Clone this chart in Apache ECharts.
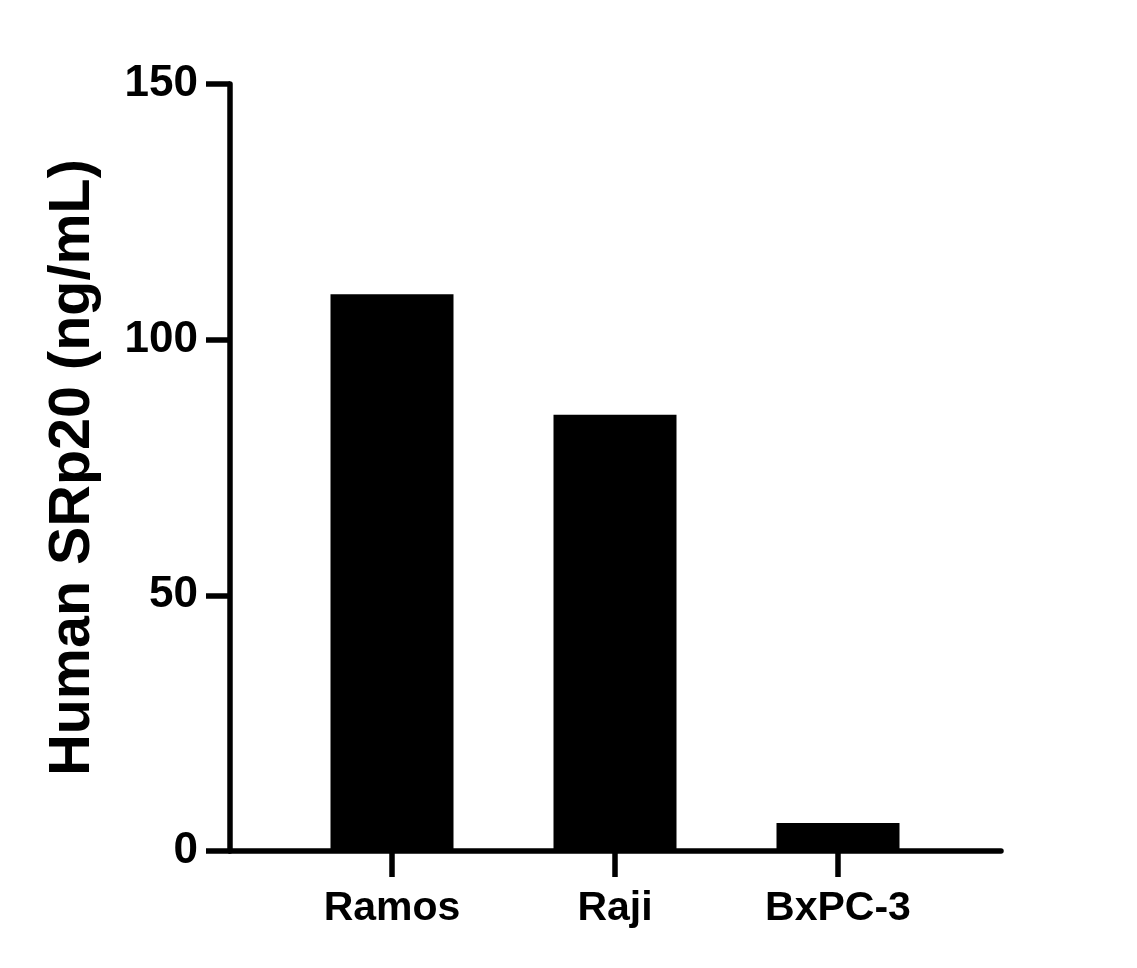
<!DOCTYPE html>
<html lang="en">
<head>
    <meta charset="UTF-8">
    <title>Human SRp20</title>
    <script src="https://cdn.jsdelivr.net/npm/echarts@6.0.0/dist/echarts.min.js"></script>
    <style>
        html, body { margin: 0; padding: 0; background: #fff; }
        #main { width: 1137px; height: 968px; }
    </style>
</head>
<body>
    <div id="main"></div>
    <script type="text/javascript">
        // data
        var categories = ['Ramos', 'Raji', 'BxPC-3'];
        var values = [108.9, 85.3, 5.5];
        var yTicks = { min: 0, max: 150, interval: 50 };
        var yTitle = 'Human SRp20 (ng/mL)';

        var font = 'Liberation Sans, Arial, sans-serif';
        var lw = 5.5;

        var chart = echarts.init(document.getElementById('main'));

        var option = {
            animation: false,
            backgroundColor: '#fff',
            grid: [
                // frame grid: full axes lines + y ticks/labels
                { left: 230, right: 136, top: 84, bottom: 117 },
                // bar grid: narrower so categories sit inside the frame
                { left: 280.5, right: 187.5, top: 84, bottom: 117 }
            ],
            xAxis: [
                {
                    gridIndex: 0, type: 'value', min: 0, max: 1,
                    axisLine: { show: true, lineStyle: { color: '#000', width: lw } },
                    axisTick: { show: false }, axisLabel: { show: false },
                    splitLine: { show: false }
                },
                {
                    gridIndex: 1, type: 'category', data: categories,
                    axisLine: { show: false },
                    axisTick: { show: true, alignWithLabel: true, length: 26,
                        lineStyle: { color: '#000', width: lw } },
                    axisLabel: { color: '#000', fontFamily: font, fontWeight: 'bold',
                        fontSize: 41, margin: 37 }
                }
            ],
            yAxis: [
                {
                    gridIndex: 0, type: 'value',
                    min: yTicks.min, max: yTicks.max, interval: yTicks.interval,
                    name: yTitle, nameLocation: 'middle', nameGap: 128,
                    nameTextStyle: { color: '#000', fontFamily: font, fontWeight: 'bold', fontSize: 57.5 },
                    axisLine: { show: true, lineStyle: { color: '#000', width: lw } },
                    axisTick: { show: true, length: 24, lineStyle: { color: '#000', width: lw } },
                    axisLabel: { color: '#000', fontFamily: font, fontWeight: 'bold',
                        fontSize: 44, margin: 32 },
                    splitLine: { show: false }
                },
                {
                    gridIndex: 1, type: 'value', min: yTicks.min, max: yTicks.max,
                    show: false, splitLine: { show: false }
                }
            ],
            series: [
                {
                    type: 'bar', xAxisIndex: 1, yAxisIndex: 1,
                    data: values, barWidth: 123,
                    itemStyle: { color: '#000' }
                }
            ]
        };

        chart.setOption(option);
    </script>
</body>
</html>
